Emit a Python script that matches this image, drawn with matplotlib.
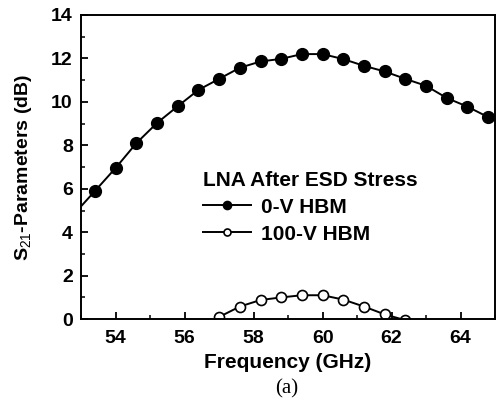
import matplotlib
matplotlib.use("Agg")
import matplotlib.pyplot as plt
from matplotlib.ticker import MultipleLocator

plt.rcParams['font.family'] = ['Liberation Sans', 'DejaVu Sans']
plt.rcParams['mathtext.fontset'] = 'custom'
plt.rcParams['mathtext.rm'] = 'Liberation Sans'
plt.rcParams['mathtext.bf'] = 'Liberation Sans:bold'

# data
freq_0v = [53.0, 53.4, 54.0, 54.6, 55.2, 55.8, 56.4, 57.0, 57.6, 58.2, 58.8, 59.4,
           60.0, 60.6, 61.2, 61.8, 62.4, 63.0, 63.6, 64.2, 64.8, 65.0]
s21_0v = [5.2, 5.9, 6.96, 8.1, 9.03, 9.8, 10.55, 11.06, 11.57, 11.86, 11.98, 12.2,
          12.2, 11.97, 11.66, 11.4, 11.06, 10.74, 10.18, 9.78, 9.3, 9.15]
freq_100v = [57.0, 57.6, 58.2, 58.8, 59.4, 60.0, 60.6, 61.2, 61.8, 62.4, 62.8]
s21_100v = [0.1, 0.58, 0.88, 1.0, 1.1, 1.1, 0.9, 0.58, 0.22, -0.05, -0.3]
marker_idx_0v = list(range(1, 21))
marker_idx_100v = list(range(0, 10))

x_ticks = [54, 56, 58, 60, 62, 64]
y_ticks = [0, 2, 4, 6, 8, 10, 12, 14]

fig = plt.figure(figsize=(4.98, 4.05), dpi=100)
ax = fig.add_axes([0.163, 0.212, 0.831, 0.751])

ax.plot(freq_0v, s21_0v, color='black', lw=1.4, marker='o', markersize=8.5,
        markerfacecolor='black', markeredgecolor='black', markevery=marker_idx_0v,
        label='0-V HBM')
ax.plot(freq_100v, s21_100v, color='black', lw=1.4, marker='o', markersize=7.2,
        markerfacecolor='white', markeredgecolor='black', markeredgewidth=1.2,
        markevery=marker_idx_100v, label='100-V HBM')

ax.set_xlim(53, 65)
ax.set_ylim(0, 14)
ax.set_xticks(x_ticks)
ax.set_yticks(y_ticks)
ax.xaxis.set_minor_locator(MultipleLocator(1))
ax.yaxis.set_minor_locator(MultipleLocator(1))
ax.tick_params(which='both', direction='in', top=False, right=False)
ax.tick_params(which='major', length=5, width=1.3, labelsize=14)
ax.tick_params(axis='x', which='major', pad=8)
ax.tick_params(axis='y', which='major', pad=6)
ax.tick_params(which='minor', length=3, width=1.1)
for lab in ax.get_xticklabels() + ax.get_yticklabels():
    lab.set_fontweight('bold')
for sp in ax.spines.values():
    sp.set_linewidth(1.4)

ax.set_xlabel('Frequency (GHz)', fontsize=15, fontweight='bold', labelpad=4)
ax.set_ylabel(r'S$_{\rm 21}$-Parameters (dB)', fontsize=14, fontweight='bold')
ax.yaxis.set_label_coords(-0.115, 0.5)

leg = ax.legend(loc='upper left', bbox_to_anchor=(0.275, 0.515), frameon=False,
                title='LNA After ESD Stress', fontsize=15, handlelength=2.3,
                handletextpad=0.45, labelspacing=0.38, borderaxespad=0,
                markerscale=0.7,
                title_fontproperties={'weight': 'bold', 'size': 15})
leg._legend_box.align = 'left'
for t in leg.get_texts():
    t.set_fontweight('bold')

fig.text(0.575, 0.015, '(a)', ha='center', va='bottom', fontsize=15,
         family=['Liberation Serif', 'DejaVu Serif'])

fig.savefig('out.png', dpi=100)
